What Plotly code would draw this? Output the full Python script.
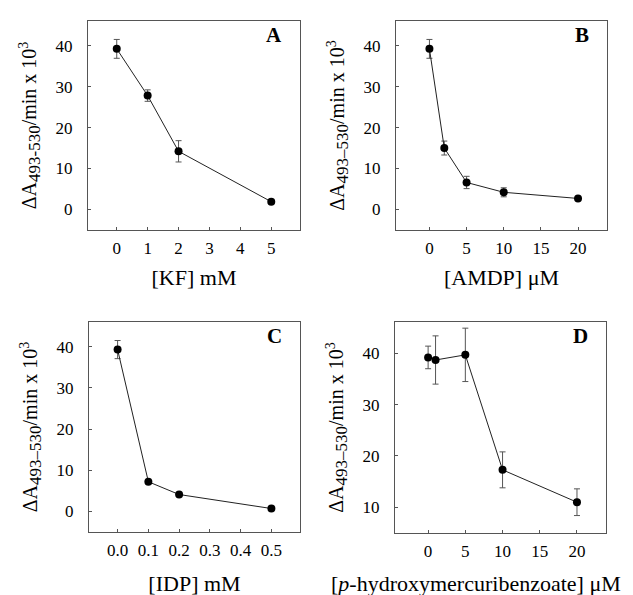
import plotly.graph_objects as go

# ---- data ----
kf_x = [0, 1, 2, 5]
kf_y = [39.2, 27.8, 14.2, 1.9]
kf_err = [2.3, 1.4, 2.6, 0.0]

amdp_x = [0, 2, 5, 10, 20]
amdp_y = [39.2, 15.0, 6.6, 4.2, 2.7]
amdp_err = [2.3, 1.7, 1.5, 1.1, 0.0]

idp_x = [0.0, 0.1, 0.2, 0.5]
idp_y = [39.3, 7.2, 4.1, 0.7]
idp_err = [2.2, 0.0, 0.0, 0.0]

phmb_x = [0, 1, 5, 10, 20]
phmb_y = [39.2, 38.7, 39.7, 17.3, 11.0]
phmb_err = [2.2, 4.7, 5.2, 3.5, 2.6]

SUB = '<sub><span style="font-size:17px">{}</span></sub>'
panels = [
    dict(x=kf_x, y=kf_y, err=kf_err, letter="A",
         xtitle="[KF] mM", ytitle="ΔA" + SUB.format("493-530") + "/min x 10<sup>3</sup>",
         xticks=[0, 1, 2, 3, 4, 5], xfmt="", xrange=[-0.93, 5.93],
         yticks=[0, 10, 20, 30, 40], yrange=[-5, 46]),
    dict(x=amdp_x, y=amdp_y, err=amdp_err, letter="B",
         xtitle="[AMDP] μM", ytitle="ΔA" + SUB.format("493–530") + "/min x 10<sup>3</sup>",
         xticks=[0, 5, 10, 15, 20], xfmt="", xrange=[-4.5, 23.9],
         yticks=[0, 10, 20, 30, 40], yrange=[-5, 46]),
    dict(x=idp_x, y=idp_y, err=idp_err, letter="C",
         xtitle="[IDP] mM", ytitle="ΔA" + SUB.format("493–530") + "/min x 10<sup>3</sup>",
         xticks=[0.0, 0.1, 0.2, 0.3, 0.4, 0.5], xfmt=".1f", xrange=[-0.093, 0.593],
         yticks=[0, 10, 20, 30, 40], yrange=[-5, 46]),
    dict(x=phmb_x, y=phmb_y, err=phmb_err, letter="D",
         xtitle="[<i>p</i>-hydroxymercuribenzoate] μM",
         ytitle="ΔA" + SUB.format("493–530") + "/min x 10<sup>3</sup>",
         xticks=[0, 5, 10, 15, 20], xfmt="", xrange=[-4.45, 23.9],
         yticks=[10, 20, 30, 40], yrange=[5, 46.1]),
]

W, H = 633, 595
boxes = [  # left, right, top, bottom in px
    (80, 292, 13, 222),
    (388, 599, 13, 222),
    (81, 292, 314, 524),
    (387, 598, 314, 525),
]

FONT = "Liberation Serif, Times New Roman, serif"
AXC = "#555555"
TFS = 22

fig = go.Figure()
layout = dict(
    width=W, height=H, margin=dict(l=0, r=0, t=0, b=0),
    paper_bgcolor="white", plot_bgcolor="white", showlegend=False,
    font=dict(family=FONT, size=17, color="black"),
)
annotations = []
for i, (p, (l, r, t, b)) in enumerate(zip(panels, boxes), start=1):
    xa = "x" if i == 1 else f"x{i}"
    ya = "y" if i == 1 else f"y{i}"
    fig.add_trace(go.Scatter(
        x=p["x"], y=p["y"], xaxis=xa, yaxis=ya, mode="lines+markers",
        line=dict(color="#222222", width=1),
        marker=dict(color="black", size=8),
        error_y=dict(type="data", array=p["err"], visible=True,
                     color="#555555", thickness=1, width=3),
    ))
    common = dict(showgrid=False, zeroline=False, showline=True, mirror=True,
                  linecolor=AXC, linewidth=1, ticks="inside", ticklen=3,
                  tickcolor=AXC, tickfont=dict(family=FONT, size=17, color="black"))
    use_axis_title = i != 4
    layout["xaxis" if i == 1 else f"xaxis{i}"] = dict(
        domain=[l / W, r / W], anchor=ya, range=p["xrange"],
        tickvals=p["xticks"], tickformat=p["xfmt"], ticklabelstandoff=3,
        title=dict(text=p["xtitle"] if use_axis_title else "",
                   standoff=16 if i == 3 else 12,
                   font=dict(family=FONT, size=TFS, color="black")),
        **common)
    layout["yaxis" if i == 1 else f"yaxis{i}"] = dict(
        domain=[1 - b / H, 1 - t / H], anchor=xa, range=p["yrange"],
        tickvals=p["yticks"], ticklabelstandoff=11,
        title=dict(text=p["ytitle"], standoff=13,
                   font=dict(family=FONT, size=20, color="black")),
        **common)
    if not use_axis_title:
        annotations.append(dict(
            text=p["xtitle"], xref="paper", yref="paper",
            x=468 / W, y=1 - 575 / H, xanchor="center", yanchor="middle",
            showarrow=False, font=dict(family=FONT, size=TFS, color="black")))
    annotations.append(dict(
        text=f"<b>{p['letter']}</b>", xref=f"{xa} domain", yref=f"{ya} domain",
        x=0.925, y=1.0, xanchor="right", yanchor="top", showarrow=False,
        font=dict(family=FONT, size=21, color="black")))

layout["annotations"] = annotations
fig.update_layout(**layout)
fig.write_html("out.html")
